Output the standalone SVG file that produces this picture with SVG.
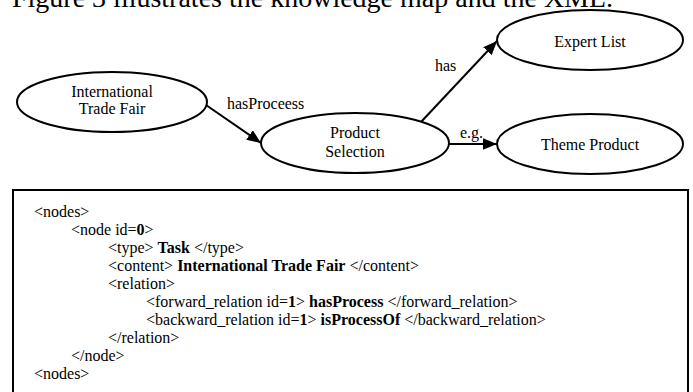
<svg xmlns="http://www.w3.org/2000/svg" width="693" height="392" viewBox="0 0 693 392">
<defs>
<style>
text{font-family:"Liberation Serif","Times New Roman",serif;fill:#000}
.n{font-size:16px;text-anchor:middle}
.l{font-size:16px}
.x{font-size:16px}
.b{font-weight:bold}
ellipse{fill:#fff;stroke:#000;stroke-width:2}
.c{stroke:#000;stroke-width:2;fill:none}
</style>
<marker id="ah" markerUnits="userSpaceOnUse" markerWidth="14" markerHeight="12" refX="12" refY="5" orient="auto" viewBox="0 0 12 10">
<path d="M0,0 L12,5 L0,10 Z" fill="#000"/>
</marker>
</defs>
<rect width="693" height="392" fill="#fff"/>
<text x="12" y="7" style="font-size:28px">Figure 3 illustrates the knowledge map and the XML.</text>
<g id="connectors">
<line class="c" x1="206" y1="105" x2="261" y2="143" marker-end="url(#ah)"/>
<line class="c" x1="421" y1="122" x2="497" y2="41" marker-end="url(#ah)"/>
<line class="c" x1="449" y1="144" x2="497" y2="144" marker-end="url(#ah)"/>
<text class="l" x="227" y="109">hasProceess</text>
<text class="l" x="435" y="71">has</text>
<text class="l" x="460" y="138">e.g.</text>
</g>
<g id="node-itf">
<ellipse cx="112" cy="102" rx="95" ry="30"/>
<text class="n" x="112" y="97">International</text>
<text class="n" x="112" y="114">Trade Fair</text>
</g>
<g id="node-ps">
<ellipse cx="355" cy="143" rx="94" ry="30"/>
<text class="n" x="355" y="138">Product</text>
<text class="n" x="355" y="157">Selection</text>
</g>
<g id="node-el">
<ellipse cx="590" cy="40" rx="93" ry="30"/>
<text class="n" x="590" y="47">Expert List</text>
</g>
<g id="node-tp">
<ellipse cx="590" cy="144" rx="93" ry="30"/>
<text class="n" x="590" y="150">Theme Product</text>
</g>
<g id="xml-box">
<rect x="13" y="190" width="675" height="210" fill="none" stroke="#000" stroke-width="2"/>
<text class="x" x="34" y="217">&lt;nodes&gt;</text>
<text class="x" x="71" y="235">&lt;node id=<tspan class="b">0</tspan>&gt;</text>
<text class="x" x="108" y="253">&lt;type&gt; <tspan class="b">Task</tspan> &lt;/type&gt;</text>
<text class="x" x="108" y="271">&lt;content&gt; <tspan class="b">International Trade Fair</tspan> &lt;/content&gt;</text>
<text class="x" x="108" y="289">&lt;relation&gt;</text>
<text class="x" x="146" y="307">&lt;forward_relation id=<tspan class="b">1</tspan>&gt; <tspan class="b">hasProcess</tspan> &lt;/forward_relation&gt;</text>
<text class="x" x="146" y="325">&lt;backward_relation id=<tspan class="b">1</tspan>&gt; <tspan class="b">isProcessOf</tspan> &lt;/backward_relation&gt;</text>
<text class="x" x="108" y="343">&lt;/relation&gt;</text>
<text class="x" x="71" y="361">&lt;/node&gt;</text>
<text class="x" x="34" y="379">&lt;nodes&gt;</text>
</g>
</svg>
